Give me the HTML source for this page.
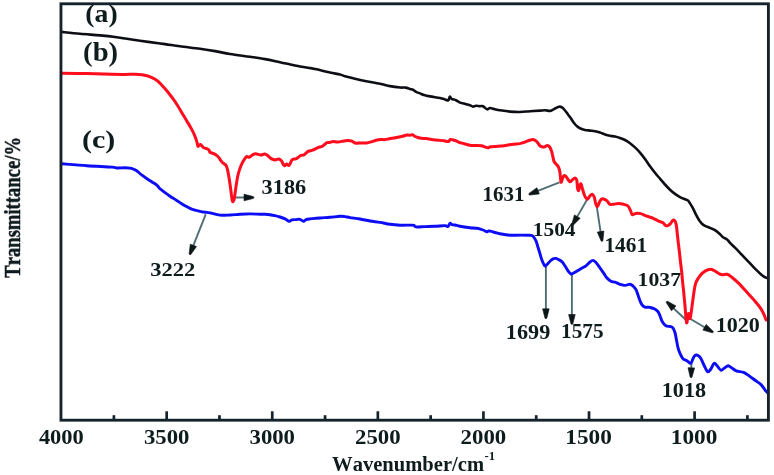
<!DOCTYPE html>
<html><head><meta charset="utf-8"><style>
html,body{margin:0;padding:0;background:#fff;}
svg{display:block;will-change:transform;}
text{font-family:"Liberation Serif",serif;font-weight:bold;fill:#111a1f;font-kerning:none;}
.ar{stroke:#4f6d75;stroke-width:1.9;fill:none;}
.ah{fill:#0d1418;stroke:#0d1418;stroke-width:0.6;stroke-linejoin:round;}
.cv{fill:none;stroke-linejoin:round;stroke-linecap:round;}
</style></head><body>
<svg width="774" height="475" viewBox="0 0 774 475">
<defs><filter id="bl" x="-2%" y="-2%" width="104%" height="104%"><feGaussianBlur stdDeviation="0.55"/></filter></defs>
<rect width="774" height="475" fill="#fff"/>
<g filter="url(#bl)">
<line x1="233.7" y1="197.5" x2="245.0" y2="197.5" class="ar"/><path d="M244.0,200.8 L253.4,198.4 L254.0,197.5 L253.4,196.6 L244.0,194.2 Z" class="ah"/>
<line x1="559.5" y1="182.3" x2="537.2" y2="191.2" class="ar"/><path d="M536.9,187.7 L529.0,193.4 L528.8,194.5 L529.7,195.1 L539.3,193.9 Z" class="ah"/>
<line x1="587.0" y1="199.7" x2="576.8" y2="217.4" class="ar"/><path d="M574.4,214.9 L571.8,224.2 L572.3,225.2 L573.4,225.1 L580.2,218.2 Z" class="ah"/>
<line x1="596.8" y1="206.6" x2="600.7" y2="232.6" class="ar"/><path d="M597.3,232.1 L601.1,241.0 L602.1,241.5 L602.9,240.8 L603.9,231.1 Z" class="ah"/>
<line x1="205.7" y1="214.3" x2="193.0" y2="246.3" class="ar"/><path d="M190.3,244.2 L189.1,253.8 L189.7,254.7 L190.8,254.5 L196.5,246.6 Z" class="ah"/>
<line x1="545.9" y1="266.6" x2="545.9" y2="309.8" class="ar"/><path d="M542.6,308.8 L545.0,318.2 L545.9,318.8 L546.8,318.2 L549.2,308.8 Z" class="ah"/>
<line x1="571.9" y1="274.2" x2="571.9" y2="315.5" class="ar"/><path d="M568.6,314.5 L571.0,323.9 L571.9,324.5 L572.8,323.9 L575.2,314.5 Z" class="ah"/>
<line x1="685.5" y1="319.5" x2="673.0" y2="307.7" class="ar"/><path d="M676.0,306.0 L667.6,301.3 L666.5,301.5 L666.3,302.6 L671.5,310.8 Z" class="ah"/>
<line x1="685.0" y1="315.8" x2="705.4" y2="327.8" class="ar"/><path d="M702.9,330.1 L712.2,332.8 L713.2,332.3 L713.1,331.2 L706.2,324.4 Z" class="ah"/>
<line x1="691.4" y1="364.0" x2="691.3" y2="368.8" class="ar"/><path d="M688.0,367.7 L690.2,377.2 L691.1,377.8 L692.0,377.2 L694.6,367.9 Z" class="ah"/>
<path class="cv" stroke="#0c1014" stroke-width="2.6" d="M61.50,31.90 C64.58,32.22 73.58,33.22 80.00,33.80 C86.42,34.38 94.17,34.87 100.00,35.40 C105.83,35.93 110.00,36.35 115.00,37.00 C120.00,37.65 124.17,38.45 130.00,39.30 C135.83,40.15 144.17,41.30 150.00,42.10 C155.83,42.90 160.00,43.40 165.00,44.10 C170.00,44.80 174.17,45.52 180.00,46.30 C185.83,47.08 194.17,48.00 200.00,48.80 C205.83,49.60 210.00,50.23 215.00,51.10 C220.00,51.97 224.17,53.05 230.00,54.00 C235.83,54.95 244.17,55.95 250.00,56.80 C255.83,57.65 260.00,58.20 265.00,59.10 C270.00,60.00 274.17,60.97 280.00,62.20 C285.83,63.43 294.17,65.37 300.00,66.50 C305.83,67.63 310.00,68.00 315.00,69.00 C320.00,70.00 325.83,71.58 330.00,72.50 C334.17,73.42 337.50,73.88 340.00,74.50 C342.50,75.12 342.50,75.50 345.00,76.20 C347.50,76.90 351.67,77.92 355.00,78.70 C358.33,79.48 360.83,80.05 365.00,80.90 C369.17,81.75 375.83,82.93 380.00,83.80 C384.17,84.67 386.67,85.48 390.00,86.10 C393.33,86.72 397.42,87.25 400.00,87.50 C402.58,87.75 403.83,87.35 405.50,87.60 C407.17,87.85 408.75,88.63 410.00,89.00 C411.25,89.37 412.00,89.33 413.00,89.80 C414.00,90.27 414.83,91.20 416.00,91.80 C417.17,92.40 418.67,92.87 420.00,93.40 C421.33,93.93 422.33,94.50 424.00,95.00 C425.67,95.50 427.33,95.88 430.00,96.40 C432.67,96.92 437.50,97.60 440.00,98.10 C442.50,98.60 443.62,99.03 445.00,99.40 C446.38,99.77 447.50,100.77 448.30,100.30 C449.10,99.83 449.27,96.85 449.80,96.60 C450.33,96.35 450.47,98.18 451.50,98.80 C452.53,99.42 454.58,99.67 456.00,100.30 C457.42,100.93 458.67,102.05 460.00,102.60 C461.33,103.15 462.33,103.17 464.00,103.60 C465.67,104.03 468.50,104.70 470.00,105.20 C471.50,105.70 472.00,106.50 473.00,106.60 C474.00,106.70 474.83,105.87 476.00,105.80 C477.17,105.73 478.83,106.13 480.00,106.20 C481.17,106.27 481.83,105.68 483.00,106.20 C484.17,106.72 485.83,109.00 487.00,109.30 C488.17,109.60 488.67,108.00 490.00,108.00 C491.33,108.00 493.33,108.92 495.00,109.30 C496.67,109.68 497.50,109.92 500.00,110.30 C502.50,110.68 506.67,111.32 510.00,111.60 C513.33,111.88 516.67,112.07 520.00,112.00 C523.33,111.93 526.67,111.43 530.00,111.20 C533.33,110.97 537.50,110.75 540.00,110.60 C542.50,110.45 543.33,110.25 545.00,110.30 C546.67,110.35 548.67,111.02 550.00,110.90 C551.33,110.78 552.00,110.08 553.00,109.60 C554.00,109.12 555.00,108.48 556.00,108.00 C557.00,107.52 558.00,106.80 559.00,106.70 C560.00,106.60 561.00,106.77 562.00,107.40 C563.00,108.03 564.00,109.32 565.00,110.50 C566.00,111.68 567.00,113.17 568.00,114.50 C569.00,115.83 570.00,117.08 571.00,118.50 C572.00,119.92 573.00,121.72 574.00,123.00 C575.00,124.28 576.00,125.33 577.00,126.20 C578.00,127.07 578.67,127.58 580.00,128.20 C581.33,128.82 583.33,129.50 585.00,129.90 C586.67,130.30 588.33,130.37 590.00,130.60 C591.67,130.83 593.33,130.97 595.00,131.30 C596.67,131.63 598.33,132.07 600.00,132.60 C601.67,133.13 603.33,133.97 605.00,134.50 C606.67,135.03 608.33,135.47 610.00,135.80 C611.67,136.13 613.33,136.15 615.00,136.50 C616.67,136.85 618.33,137.32 620.00,137.90 C621.67,138.48 623.33,139.12 625.00,140.00 C626.67,140.88 628.33,141.97 630.00,143.20 C631.67,144.43 633.33,145.83 635.00,147.40 C636.67,148.97 638.33,150.67 640.00,152.60 C641.67,154.53 643.33,156.72 645.00,159.00 C646.67,161.28 648.33,164.00 650.00,166.30 C651.67,168.60 653.33,170.73 655.00,172.80 C656.67,174.87 658.33,176.75 660.00,178.70 C661.67,180.65 663.33,182.67 665.00,184.50 C666.67,186.33 668.33,188.13 670.00,189.70 C671.67,191.27 673.33,192.67 675.00,193.90 C676.67,195.13 678.33,196.22 680.00,197.10 C681.67,197.98 683.67,198.65 685.00,199.20 C686.33,199.75 687.17,199.72 688.00,200.40 C688.83,201.08 689.17,201.97 690.00,203.30 C690.83,204.63 692.00,206.50 693.00,208.40 C694.00,210.30 695.00,212.77 696.00,214.70 C697.00,216.63 698.00,218.50 699.00,220.00 C700.00,221.50 701.00,222.73 702.00,223.70 C703.00,224.67 703.67,225.10 705.00,225.80 C706.33,226.50 708.33,227.17 710.00,227.90 C711.67,228.63 713.33,229.15 715.00,230.20 C716.67,231.25 718.67,233.02 720.00,234.20 C721.33,235.38 721.83,236.43 723.00,237.30 C724.17,238.17 725.83,238.48 727.00,239.40 C728.17,240.32 728.67,241.42 730.00,242.80 C731.33,244.18 733.33,246.03 735.00,247.70 C736.67,249.37 738.33,251.05 740.00,252.80 C741.67,254.55 743.33,256.43 745.00,258.20 C746.67,259.97 748.33,261.65 750.00,263.40 C751.67,265.15 753.33,267.03 755.00,268.70 C756.67,270.37 758.50,272.08 760.00,273.40 C761.50,274.72 762.67,275.75 764.00,276.60 C765.33,277.45 767.33,278.18 768.00,278.50"/>
<path class="cv" stroke="#ff0a1e" stroke-width="3.0" d="M61.50,73.20 C65.75,73.27 78.58,73.42 87.00,73.60 C95.42,73.78 105.67,74.17 112.00,74.30 C118.33,74.43 121.17,74.40 125.00,74.40 C128.83,74.40 132.17,74.25 135.00,74.30 C137.83,74.35 140.00,74.47 142.00,74.70 C144.00,74.93 145.33,75.22 147.00,75.70 C148.67,76.18 150.33,76.80 152.00,77.60 C153.67,78.40 155.67,79.55 157.00,80.50 C158.33,81.45 158.77,82.03 160.00,83.30 C161.23,84.57 162.93,86.43 164.40,88.10 C165.87,89.77 167.32,91.45 168.80,93.30 C170.28,95.15 171.82,97.12 173.30,99.20 C174.78,101.28 176.23,103.47 177.70,105.80 C179.17,108.13 180.63,110.75 182.10,113.20 C183.57,115.65 185.03,118.05 186.50,120.50 C187.97,122.95 189.55,125.43 190.90,127.90 C192.25,130.37 193.62,133.02 194.60,135.30 C195.58,137.58 196.25,139.78 196.80,141.60 C197.35,143.42 197.53,145.58 197.90,146.20 C198.27,146.82 198.57,145.58 199.00,145.30 C199.43,145.02 200.00,144.38 200.50,144.50 C201.00,144.62 201.45,145.45 202.00,146.00 C202.55,146.55 203.02,147.37 203.80,147.80 C204.58,148.23 205.83,148.23 206.70,148.60 C207.57,148.97 208.45,149.37 209.00,150.00 C209.55,150.63 209.52,151.90 210.00,152.40 C210.48,152.90 211.10,152.72 211.90,153.00 C212.70,153.28 213.88,153.60 214.80,154.10 C215.72,154.60 216.65,155.32 217.40,156.00 C218.15,156.68 218.75,157.47 219.30,158.20 C219.85,158.93 220.22,159.73 220.70,160.40 C221.18,161.07 221.62,161.62 222.20,162.20 C222.78,162.78 223.55,163.33 224.20,163.90 C224.85,164.47 225.53,164.57 226.10,165.60 C226.67,166.63 227.10,168.00 227.60,170.10 C228.10,172.20 228.60,175.17 229.10,178.20 C229.60,181.23 230.18,185.27 230.60,188.30 C231.02,191.33 231.27,194.18 231.60,196.40 C231.93,198.62 232.18,201.10 232.60,201.60 C233.02,202.10 233.67,200.95 234.10,199.40 C234.53,197.85 234.85,194.65 235.20,192.30 C235.55,189.95 235.78,187.98 236.20,185.30 C236.62,182.62 237.12,178.90 237.70,176.20 C238.28,173.50 239.03,171.12 239.70,169.10 C240.37,167.08 240.95,165.68 241.70,164.10 C242.45,162.52 243.38,160.85 244.20,159.60 C245.02,158.35 245.77,157.00 246.60,156.60 C247.43,156.20 248.23,157.47 249.20,157.20 C250.17,156.93 251.33,155.57 252.40,155.00 C253.47,154.43 254.20,153.80 255.60,153.80 C257.00,153.80 259.28,154.95 260.80,155.00 C262.32,155.05 263.52,153.98 264.70,154.10 C265.88,154.22 266.83,154.95 267.90,155.70 C268.97,156.45 269.92,157.90 271.10,158.60 C272.28,159.30 273.70,159.85 275.00,159.90 C276.30,159.95 277.82,158.73 278.90,158.90 C279.98,159.07 280.75,159.93 281.50,160.90 C282.25,161.87 282.87,163.90 283.40,164.70 C283.93,165.50 284.17,165.80 284.70,165.70 C285.23,165.60 285.85,164.15 286.60,164.10 C287.35,164.05 288.33,166.05 289.20,165.40 C290.07,164.75 291.00,161.27 291.80,160.20 C292.60,159.13 293.20,159.27 294.00,159.00 C294.80,158.73 295.52,159.18 296.60,158.60 C297.68,158.02 299.32,156.10 300.50,155.50 C301.68,154.90 302.42,155.68 303.70,155.00 C304.98,154.32 306.70,152.20 308.20,151.40 C309.70,150.60 311.08,150.83 312.70,150.20 C314.32,149.57 316.28,148.25 317.90,147.60 C319.52,146.95 320.90,147.12 322.40,146.30 C323.90,145.48 325.60,143.35 326.90,142.70 C328.20,142.05 329.12,142.62 330.20,142.40 C331.28,142.18 332.12,141.45 333.40,141.40 C334.68,141.35 336.13,142.18 337.90,142.10 C339.67,142.02 342.33,141.15 344.00,140.90 C345.67,140.65 346.60,140.55 347.90,140.60 C349.20,140.65 350.52,140.77 351.80,141.20 C353.08,141.63 354.10,142.92 355.60,143.20 C357.10,143.48 358.97,142.95 360.80,142.90 C362.63,142.85 364.88,143.07 366.60,142.90 C368.32,142.73 369.48,142.33 371.10,141.90 C372.72,141.47 374.78,140.68 376.30,140.30 C377.82,139.92 378.70,139.72 380.20,139.60 C381.70,139.48 383.80,139.75 385.30,139.60 C386.80,139.45 387.75,138.97 389.20,138.70 C390.65,138.43 392.55,138.23 394.00,138.00 C395.45,137.77 396.50,137.58 397.90,137.30 C399.30,137.02 400.90,136.68 402.40,136.30 C403.90,135.92 405.62,135.17 406.90,135.00 C408.18,134.83 409.13,135.35 410.10,135.30 C411.07,135.25 411.93,134.53 412.70,134.70 C413.47,134.87 413.93,135.87 414.70,136.30 C415.47,136.73 416.23,136.97 417.30,137.30 C418.37,137.63 419.60,138.08 421.10,138.30 C422.60,138.52 424.57,138.38 426.30,138.60 C428.03,138.82 429.57,139.33 431.50,139.60 C433.43,139.87 435.82,140.00 437.90,140.20 C439.98,140.40 442.23,140.57 444.00,140.80 C445.77,141.03 447.45,141.83 448.50,141.60 C449.55,141.37 449.33,139.62 450.30,139.40 C451.27,139.18 453.08,139.93 454.30,140.30 C455.52,140.67 456.52,141.17 457.60,141.60 C458.68,142.03 459.40,142.47 460.80,142.90 C462.20,143.33 464.28,143.77 466.00,144.20 C467.72,144.63 469.38,145.28 471.10,145.50 C472.82,145.72 474.57,145.45 476.30,145.50 C478.03,145.55 480.00,145.53 481.50,145.80 C483.00,146.07 484.23,146.77 485.30,147.10 C486.37,147.43 487.03,147.85 487.90,147.80 C488.77,147.75 489.48,147.00 490.50,146.80 C491.52,146.60 492.33,146.72 494.00,146.60 C495.67,146.48 498.35,146.33 500.50,146.10 C502.65,145.87 504.75,145.52 506.90,145.20 C509.05,144.88 511.25,144.47 513.40,144.20 C515.55,143.93 517.87,143.97 519.80,143.60 C521.73,143.23 523.38,142.55 525.00,142.00 C526.62,141.45 528.20,140.70 529.50,140.30 C530.80,139.90 531.83,139.55 532.80,139.60 C533.77,139.65 534.45,140.05 535.30,140.60 C536.15,141.15 537.03,141.95 537.90,142.90 C538.77,143.85 539.48,145.62 540.50,146.30 C541.52,146.98 542.88,147.13 544.00,147.00 C545.12,146.87 546.25,145.50 547.20,145.50 C548.15,145.50 548.97,146.02 549.70,147.00 C550.43,147.98 551.08,149.83 551.60,151.40 C552.12,152.97 552.38,154.72 552.80,156.40 C553.22,158.08 553.47,160.13 554.10,161.50 C554.73,162.87 555.87,163.67 556.60,164.60 C557.33,165.53 557.97,165.93 558.50,167.10 C559.03,168.27 559.48,170.02 559.80,171.60 C560.12,173.18 560.20,174.82 560.40,176.60 C560.60,178.38 560.68,181.88 561.00,182.30 C561.32,182.72 561.87,180.15 562.30,179.10 C562.73,178.05 563.07,176.52 563.60,176.00 C564.13,175.48 564.87,175.58 565.50,176.00 C566.13,176.42 566.67,177.55 567.40,178.50 C568.13,179.45 569.07,181.48 569.90,181.70 C570.73,181.92 571.57,180.43 572.40,179.80 C573.23,179.17 574.17,177.80 574.90,177.90 C575.63,178.00 576.37,178.72 576.80,180.40 C577.23,182.08 577.18,186.32 577.50,188.00 C577.82,189.68 578.28,191.03 578.70,190.50 C579.12,189.97 579.58,185.85 580.00,184.80 C580.42,183.75 580.78,183.50 581.20,184.20 C581.62,184.90 581.93,187.12 582.50,189.00 C583.07,190.88 583.82,193.78 584.60,195.50 C585.38,197.22 586.35,199.17 587.20,199.30 C588.05,199.43 588.87,197.15 589.70,196.30 C590.53,195.45 591.43,194.05 592.20,194.20 C592.97,194.35 593.73,195.72 594.30,197.20 C594.87,198.68 595.10,201.48 595.60,203.10 C596.10,204.72 596.67,207.05 597.30,206.90 C597.93,206.75 598.63,203.55 599.40,202.20 C600.17,200.85 600.92,199.22 601.90,198.80 C602.88,198.38 604.32,199.20 605.30,199.70 C606.28,200.20 607.03,201.03 607.80,201.80 C608.57,202.57 608.92,203.90 609.90,204.30 C610.88,204.70 612.22,204.35 613.70,204.20 C615.18,204.05 617.12,203.37 618.80,203.40 C620.48,203.43 622.27,203.97 623.80,204.40 C625.33,204.83 626.88,204.97 628.00,206.00 C629.12,207.03 629.80,209.17 630.50,210.60 C631.20,212.03 631.35,214.12 632.20,214.60 C633.05,215.08 634.18,213.67 635.60,213.50 C637.02,213.33 639.17,213.30 640.70,213.60 C642.23,213.90 643.42,214.77 644.80,215.30 C646.18,215.83 647.62,216.30 649.00,216.80 C650.38,217.30 651.73,217.72 653.10,218.30 C654.47,218.88 655.82,219.67 657.20,220.30 C658.58,220.93 660.32,221.60 661.40,222.10 C662.48,222.60 663.02,222.75 663.70,223.30 C664.38,223.85 664.80,225.02 665.50,225.40 C666.20,225.78 667.12,225.85 667.90,225.60 C668.68,225.35 669.42,224.73 670.20,223.90 C670.98,223.07 671.92,221.20 672.60,220.60 C673.28,220.00 673.82,220.05 674.30,220.30 C674.78,220.55 675.13,221.07 675.50,222.10 C675.87,223.13 676.22,224.68 676.50,226.50 C676.78,228.32 676.92,230.42 677.20,233.00 C677.48,235.58 677.83,238.83 678.20,242.00 C678.57,245.17 679.02,248.67 679.40,252.00 C679.78,255.33 680.12,258.67 680.50,262.00 C680.88,265.33 681.35,268.67 681.70,272.00 C682.05,275.33 682.28,278.83 682.60,282.00 C682.92,285.17 683.20,287.00 683.60,291.00 C684.00,295.00 684.50,300.70 685.00,306.00 C685.50,311.30 686.02,321.55 686.60,322.80 C687.18,324.05 687.90,314.25 688.50,313.50 C689.10,312.75 689.48,320.48 690.20,318.30 C690.92,316.12 692.08,305.35 692.80,300.40 C693.52,295.45 693.93,291.68 694.50,288.60 C695.07,285.52 695.22,284.13 696.20,281.90 C697.18,279.67 698.85,277.03 700.40,275.20 C701.95,273.37 703.82,271.88 705.50,270.90 C707.18,269.92 709.10,269.38 710.50,269.30 C711.90,269.22 712.50,269.70 713.90,270.40 C715.30,271.10 717.50,272.77 718.90,273.50 C720.30,274.23 720.90,274.67 722.30,274.80 C723.70,274.93 725.62,273.82 727.30,274.30 C728.98,274.78 730.43,276.15 732.40,277.70 C734.37,279.25 736.85,281.37 739.10,283.60 C741.35,285.83 743.37,288.30 745.90,291.10 C748.43,293.90 751.78,297.45 754.30,300.40 C756.82,303.35 759.32,306.27 761.00,308.80 C762.68,311.33 763.55,313.77 764.40,315.60 C765.25,317.43 765.50,319.23 766.10,319.80 C766.70,320.37 767.68,319.13 768.00,319.00"/>
<path class="cv" stroke="#0a0af5" stroke-width="2.9" d="M61.90,163.80 C66.08,164.12 78.65,165.15 87.00,165.70 C95.35,166.25 107.00,166.72 112.00,167.10 C117.00,167.48 114.83,167.90 117.00,168.00 C119.17,168.10 122.83,167.68 125.00,167.70 C127.17,167.72 128.67,167.88 130.00,168.10 C131.33,168.32 131.83,168.52 133.00,169.00 C134.17,169.48 135.50,169.97 137.00,171.00 C138.50,172.03 140.33,173.92 142.00,175.20 C143.67,176.48 145.33,177.57 147.00,178.70 C148.67,179.83 150.33,180.90 152.00,182.00 C153.67,183.10 155.67,184.17 157.00,185.30 C158.33,186.43 158.67,187.58 160.00,188.80 C161.33,190.02 163.33,191.37 165.00,192.60 C166.67,193.83 168.33,195.07 170.00,196.20 C171.67,197.33 173.33,198.33 175.00,199.40 C176.67,200.47 178.33,201.53 180.00,202.60 C181.67,203.67 183.33,204.85 185.00,205.80 C186.67,206.75 188.33,207.58 190.00,208.30 C191.67,209.02 193.33,209.60 195.00,210.10 C196.67,210.60 198.33,210.95 200.00,211.30 C201.67,211.65 203.33,211.93 205.00,212.20 C206.67,212.47 207.50,212.42 210.00,212.90 C212.50,213.38 216.67,214.75 220.00,215.10 C223.33,215.45 226.67,215.15 230.00,215.00 C233.33,214.85 236.67,214.38 240.00,214.20 C243.33,214.02 246.67,213.90 250.00,213.90 C253.33,213.90 257.50,214.13 260.00,214.20 C262.50,214.27 263.33,214.22 265.00,214.30 C266.67,214.38 268.33,214.48 270.00,214.70 C271.67,214.92 273.33,215.22 275.00,215.60 C276.67,215.98 278.33,216.45 280.00,217.00 C281.67,217.55 283.50,218.20 285.00,218.90 C286.50,219.60 287.83,221.03 289.00,221.20 C290.17,221.37 290.83,220.17 292.00,219.90 C293.17,219.63 294.67,219.70 296.00,219.60 C297.33,219.50 298.75,219.03 300.00,219.30 C301.25,219.57 302.50,221.15 303.50,221.20 C304.50,221.25 304.92,219.98 306.00,219.60 C307.08,219.22 307.67,219.17 310.00,218.90 C312.33,218.63 316.67,218.27 320.00,218.00 C323.33,217.73 326.67,217.58 330.00,217.30 C333.33,217.02 337.50,216.42 340.00,216.30 C342.50,216.18 343.33,216.38 345.00,216.60 C346.67,216.82 347.50,217.20 350.00,217.60 C352.50,218.00 356.67,218.43 360.00,219.00 C363.33,219.57 366.67,220.43 370.00,221.00 C373.33,221.57 376.67,221.85 380.00,222.40 C383.33,222.95 386.67,223.83 390.00,224.30 C393.33,224.77 396.67,225.07 400.00,225.20 C403.33,225.33 407.67,225.08 410.00,225.10 C412.33,225.12 413.00,225.00 414.00,225.30 C415.00,225.60 414.17,226.68 416.00,226.90 C417.83,227.12 421.83,226.70 425.00,226.60 C428.17,226.50 431.67,226.47 435.00,226.30 C438.33,226.13 442.83,225.57 445.00,225.60 C447.17,225.63 447.17,226.90 448.00,226.50 C448.83,226.10 449.33,223.50 450.00,223.20 C450.67,222.90 451.17,224.40 452.00,224.70 C452.83,225.00 453.67,224.73 455.00,225.00 C456.33,225.27 457.50,225.85 460.00,226.30 C462.50,226.75 467.17,227.37 470.00,227.70 C472.83,228.03 474.83,227.92 477.00,228.30 C479.17,228.68 481.33,229.40 483.00,230.00 C484.67,230.60 486.00,231.75 487.00,231.90 C488.00,232.05 487.67,230.80 489.00,230.90 C490.33,231.00 493.17,232.02 495.00,232.50 C496.83,232.98 497.50,233.35 500.00,233.80 C502.50,234.25 506.67,234.98 510.00,235.20 C513.33,235.42 516.67,235.08 520.00,235.10 C523.33,235.12 527.83,235.12 530.00,235.30 C532.17,235.48 532.00,235.28 533.00,236.20 C534.00,237.12 535.17,238.95 536.00,240.80 C536.83,242.65 537.33,245.13 538.00,247.30 C538.67,249.47 539.33,251.63 540.00,253.80 C540.67,255.97 541.25,258.35 542.00,260.30 C542.75,262.25 543.83,264.63 544.50,265.50 C545.17,266.37 545.42,265.83 546.00,265.50 C546.58,265.17 547.33,264.22 548.00,263.50 C548.67,262.78 549.17,261.97 550.00,261.20 C550.83,260.43 552.00,259.37 553.00,258.90 C554.00,258.43 555.00,258.25 556.00,258.40 C557.00,258.55 558.00,259.23 559.00,259.80 C560.00,260.37 561.00,260.77 562.00,261.80 C563.00,262.83 564.00,264.50 565.00,266.00 C566.00,267.50 567.00,269.47 568.00,270.80 C569.00,272.13 570.00,273.67 571.00,274.00 C572.00,274.33 572.83,273.40 574.00,272.80 C575.17,272.20 576.67,271.20 578.00,270.40 C579.33,269.60 580.67,268.77 582.00,268.00 C583.33,267.23 584.67,266.80 586.00,265.80 C587.33,264.80 588.83,262.90 590.00,262.00 C591.17,261.10 592.00,260.32 593.00,260.40 C594.00,260.48 594.83,261.23 596.00,262.50 C597.17,263.77 598.67,266.15 600.00,268.00 C601.33,269.85 602.83,271.93 604.00,273.60 C605.17,275.27 605.83,276.72 607.00,278.00 C608.17,279.28 609.67,280.60 611.00,281.30 C612.33,282.00 613.50,281.70 615.00,282.20 C616.50,282.70 618.33,283.77 620.00,284.30 C621.67,284.83 623.33,285.42 625.00,285.40 C626.67,285.38 628.67,284.10 630.00,284.20 C631.33,284.30 632.00,285.10 633.00,286.00 C634.00,286.90 635.17,288.08 636.00,289.60 C636.83,291.12 637.33,293.25 638.00,295.10 C638.67,296.95 639.33,299.07 640.00,300.70 C640.67,302.33 641.17,303.82 642.00,304.90 C642.83,305.98 644.00,306.82 645.00,307.20 C646.00,307.58 647.17,307.17 648.00,307.20 C648.83,307.23 648.95,307.13 650.00,307.40 C651.05,307.67 652.98,308.12 654.30,308.80 C655.62,309.48 656.95,310.33 657.90,311.50 C658.85,312.67 659.28,314.13 660.00,315.80 C660.72,317.47 661.23,319.83 662.20,321.50 C663.17,323.17 664.48,324.97 665.80,325.80 C667.12,326.63 668.92,326.15 670.10,326.50 C671.28,326.85 672.07,326.82 672.90,327.90 C673.73,328.98 674.50,330.97 675.10,333.00 C675.70,335.03 676.03,337.72 676.50,340.10 C676.97,342.48 677.30,345.03 677.90,347.30 C678.50,349.57 679.25,351.80 680.10,353.70 C680.95,355.60 681.82,357.50 683.00,358.70 C684.18,359.90 685.90,360.13 687.20,360.90 C688.50,361.67 689.83,363.67 690.80,363.30 C691.77,362.93 692.30,360.00 693.00,358.70 C693.70,357.40 694.17,356.03 695.00,355.50 C695.83,354.97 697.02,355.02 698.00,355.50 C698.98,355.98 699.92,356.82 700.90,358.40 C701.88,359.98 702.78,362.78 703.90,365.00 C705.02,367.22 706.50,370.95 707.60,371.70 C708.70,372.45 709.40,370.90 710.50,369.50 C711.60,368.10 713.10,363.92 714.20,363.30 C715.30,362.68 716.00,364.65 717.10,365.80 C718.20,366.95 719.57,369.83 720.80,370.20 C722.03,370.57 723.27,368.73 724.50,368.00 C725.73,367.27 726.97,365.80 728.20,365.80 C729.43,365.80 730.55,367.15 731.90,368.00 C733.25,368.85 734.35,370.17 736.30,370.90 C738.25,371.63 741.40,371.53 743.60,372.40 C745.80,373.27 747.53,374.75 749.50,376.10 C751.47,377.45 753.43,379.03 755.40,380.50 C757.37,381.97 759.58,383.18 761.30,384.90 C763.02,386.62 764.60,389.45 765.70,390.80 C766.80,392.15 767.53,392.63 767.90,393.00"/>
<rect x="60.95" y="3.8" width="707.45" height="416.4" fill="none" stroke="#14222a" stroke-width="2.85"/>
<line x1="113.89" y1="415.2" x2="113.89" y2="420" stroke="#14222a" stroke-width="2.7"/>
<line x1="166.68" y1="411.3" x2="166.68" y2="420" stroke="#14222a" stroke-width="2.7"/>
<line x1="219.47" y1="415.2" x2="219.47" y2="420" stroke="#14222a" stroke-width="2.7"/>
<line x1="272.27" y1="411.3" x2="272.27" y2="420" stroke="#14222a" stroke-width="2.7"/>
<line x1="325.06" y1="415.2" x2="325.06" y2="420" stroke="#14222a" stroke-width="2.7"/>
<line x1="377.85" y1="411.3" x2="377.85" y2="420" stroke="#14222a" stroke-width="2.7"/>
<line x1="430.64" y1="415.2" x2="430.64" y2="420" stroke="#14222a" stroke-width="2.7"/>
<line x1="483.43" y1="411.3" x2="483.43" y2="420" stroke="#14222a" stroke-width="2.7"/>
<line x1="536.23" y1="415.2" x2="536.23" y2="420" stroke="#14222a" stroke-width="2.7"/>
<line x1="589.02" y1="411.3" x2="589.02" y2="420" stroke="#14222a" stroke-width="2.7"/>
<line x1="641.81" y1="415.2" x2="641.81" y2="420" stroke="#14222a" stroke-width="2.7"/>
<line x1="694.60" y1="411.3" x2="694.60" y2="420" stroke="#14222a" stroke-width="2.7"/>
<line x1="747.39" y1="415.2" x2="747.39" y2="420" stroke="#14222a" stroke-width="2.7"/>
<text transform="translate(261.61,193.95) scale(1.075,1)" font-size="20.75">3186</text>
<text transform="translate(482.57,201.24) scale(0.977,1)" font-size="21.43">1631</text>
<text transform="translate(532.84,236.47) scale(1.135,1)" font-size="18.82">1504</text>
<text transform="translate(604.44,251.64) scale(0.994,1)" font-size="21.43">1461</text>
<text transform="translate(150.30,276.06) scale(1.175,1)" font-size="19.20">3222</text>
<text transform="translate(637.61,286.16) scale(1.095,1)" font-size="19.86">1037</text>
<text transform="translate(715.68,332.05) scale(1.073,1)" font-size="20.60">1020</text>
<text transform="translate(505.87,339.45) scale(1.088,1)" font-size="20.39">1699</text>
<text transform="translate(561.05,337.55) scale(1.039,1)" font-size="20.45">1575</text>
<text transform="translate(661.78,396.64) scale(1.053,1)" font-size="21.04">1018</text>
<text transform="translate(85.33,22.10) scale(1.084,1)" font-size="25.59">(a)</text>
<text transform="translate(83.09,60.74) scale(1.087,1)" font-size="26.36">(b)</text>
<text transform="translate(81.93,148.33) scale(1.155,1)" font-size="25.92">(c)</text>
<text transform="translate(38.89,443.55) scale(1.107,1)" font-size="20.30">4000</text>
<text transform="translate(143.93,443.55) scale(1.121,1)" font-size="20.30">3500</text>
<text transform="translate(249.51,443.55) scale(1.121,1)" font-size="20.30">3000</text>
<text transform="translate(354.99,443.55) scale(1.124,1)" font-size="20.30">2500</text>
<text transform="translate(460.58,443.55) scale(1.124,1)" font-size="20.30">2000</text>
<text transform="translate(565.25,443.55) scale(1.146,1)" font-size="20.30">1500</text>
<text transform="translate(670.84,443.55) scale(1.146,1)" font-size="20.30">1000</text>
<text transform="translate(332.06,471.24) scale(0.993,1)" font-size="20.73">Wavenumber/cm</text>
<text transform="translate(484.58,459.75) scale(1.040,1)" font-size="12.27">-1</text>
<text transform="translate(20.00,277.79) rotate(-90) scale(0.794,1)" font-size="23.5" stroke="#111a1f" stroke-width="0.45">Transmittance/%</text>
</g></svg></body></html>
